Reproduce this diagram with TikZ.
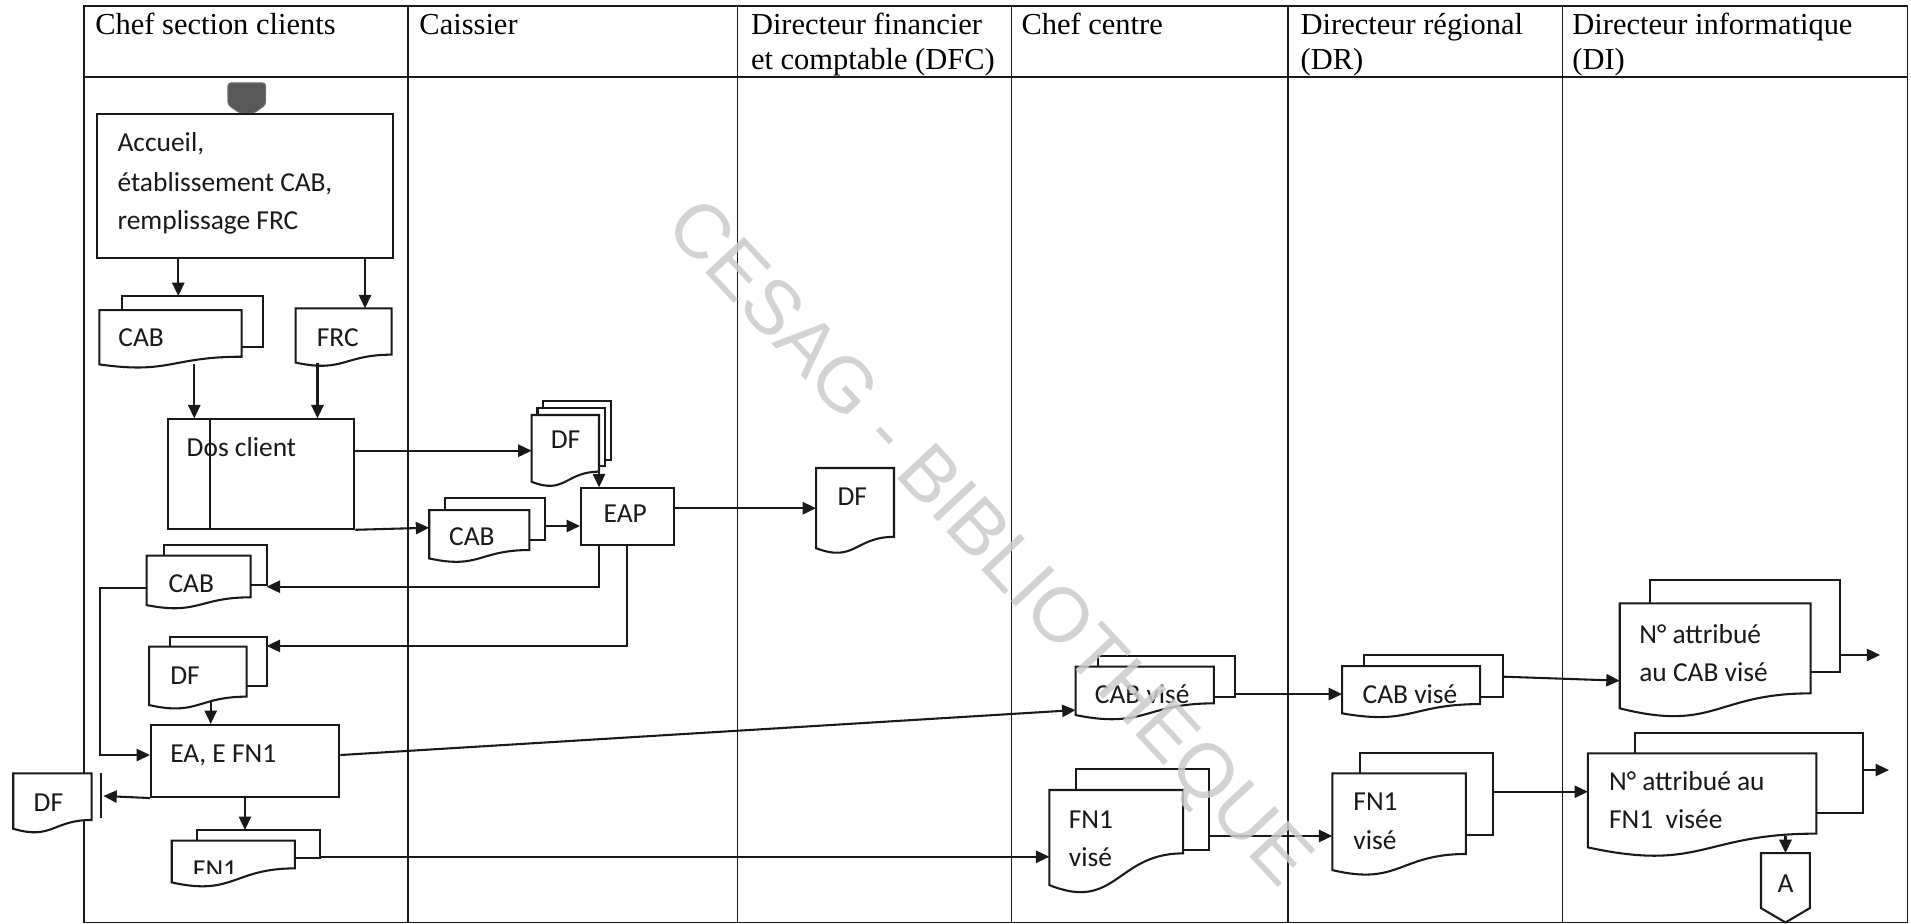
\documentclass[tikz,border=0pt]{standalone}
\usepackage{fontspec}
\setmainfont{Liberation Serif}
\newfontfamily\calfont{Carlito}
\newfontfamily\wmfont{Liberation Sans}
\usetikzlibrary{arrows.meta}
% document sheet with wavy bottom: name, x1, y1, x2, y-right-bottom, y-left-bottom, curvature
\newcommand\docsh[7]{%
  \path[shp] (#2,#3) -- (#4,#3) -- (#4,#5) .. controls ({(#2+#4)/2},#5) and ({(#2+#4)/2},{#5+#7*(#6-#5)}) .. (#2,#6) -- cycle;
  \coordinate (#1) at ({(#2+#4)/2},{(#3+#5)/2});}
% back sheet: name, x1, y1, x2, y2
\newcommand\backsh[5]{%
  \path[shp] (#2,#3) rectangle (#4,#5);
  \coordinate (#1) at ({(#2+#4)/2},{(#3+#5)/2});}
\begin{document}
\begin{tikzpicture}[x=1pt,y=-1pt,
  lane/.style={line width=1.3pt, draw=black!90},
  shp/.style={draw=black!90, line width=1.7pt, fill=white},
  ln/.style={line width=1.7pt, draw=black!90},
  arr/.style={ln, -{Triangle[length=11pt,width=10pt]}},
  hdr/.style={font=\fontsize{25}{30}\selectfont, anchor=base west, inner sep=0},
  txt/.style={font=\calfont\fontsize{22.5}{27}\selectfont, anchor=base west, inner sep=0, text=black!90},
  box/.style={shp, anchor=north west, inner sep=0},
]
\useasboundingbox (0,0) rectangle (1568,758);
\fill[white] (0,0) rectangle (1568,758);

% ---- swimlane table ----
\draw[lane] (69,5) rectangle (1565,757);
\draw[lane] (69,63) -- (1565,63);
\foreach \x in {335,605,830,1057,1282} \draw[lane] (\x,5) -- (\x,757);

\node[hdr] (h1) at (78,28.7) {Chef section clients};
\node[hdr] (h2) at (344,28.7) {Caissier};
\node[hdr] (h3a) at (616,28.7) {Directeur financier};
\node[hdr] (h3b) at (616,57.4) {et comptable (DFC)};
\node[hdr] (h4) at (838,28.7) {Chef centre};
\node[hdr] (h5a) at (1067,28.7) {Directeur régional};
\node[hdr] (h5b) at (1067,57.4) {(DR)};
\node[hdr] (h6a) at (1290,28.7) {Directeur informatique};
\node[hdr] (h6b) at (1290,57.4) {(DI)};

% ---- start symbol ----
\path[fill=black!65, draw=black!55, line width=0.8pt, rounded corners=2.5pt]
  (187,68) -- (218,68) -- (218,86) -- (208,93) -- (197,93) -- (187,86) -- cycle;

% ---- Chef section clients ----
\node[box, minimum width=242.6pt, minimum height=117.6pt] (acc) at (78.8,93) {};
\node[txt] (acc1) at (96.3,124.5) {Accueil,};
\node[txt] (acc2) at (96.3,157.3) {établissement CAB,};
\node[txt] (acc3) at (96.3,188.7) {remplissage FRC};

\backsh{cab1b}{99.8}{242.9}{216}{284.5}
\docsh{cab1}{81.5}{254.4}{198.3}{292.7}{299}{2.31}
\node[txt] (cab1t) at (97,284.5) {CAB};

\docsh{frc}{242.6}{253}{321.4}{291}{297.5}{2.31}
\node[txt] (frct) at (259.8,284.5) {FRC};

\node[box, minimum width=152.9pt, minimum height=89.7pt] (dos) at (136.9,343.3) {};
\draw[ln] ([xshift=35.1pt]dos.north west) -- ([xshift=35.1pt]dos.south west);
\node[txt] (dost) at (153,374.2) {Dos client};

\backsh{cab3b}{134.6}{447.2}{218.8}{480}
\docsh{cab3}{120.3}{455.9}{205.7}{490.1}{496.5}{2.31}
\node[txt] (cab3t) at (138.1,486) {CAB};

\backsh{df3b}{139.5}{522.4}{218.8}{562.9}
\docsh{df3}{122.3}{530.6}{202.4}{571.6}{578.5}{2.31}
\node[txt] (df3t) at (139.5,561.5) {DF};

\node[box, minimum width=154.5pt, minimum height=59.1pt] (ea) at (123.1,594) {};
\node[txt] (eat) at (139.5,626) {EA, E FN1};

\docsh{dfo}{10.9}{634.5}{75.2}{672.8}{680}{2.31}
\node[txt] (dfot) at (27.4,666) {DF};
\draw[ln] (82.9,634.5) -- (82.9,671.4);

\backsh{fn1b}{161.4}{681}{262.6}{703.7}
\docsh{fn1}{140.9}{689.8}{242}{712.5}{724}{2.0}
\begin{scope}
  \clip (140,695) rectangle (242,716.5);
  \node[txt] (fn1t) at (158.1,720.5) {FN1};
\end{scope}

% ---- Caissier ----
\backsh{dfm3}{445.8}{328.9}{501.1}{377.8}
\backsh{dfm2}{441}{334.7}{496.3}{382.5}
\docsh{dfm}{436.2}{340.5}{491.5}{387}{395.3}{2.31}
\node[txt] (dfmt) at (451.8,367.9) {DF};

\backsh{cab2b}{365.4}{408.9}{446.8}{443.1}
\docsh{cab2}{352.2}{418.5}{434.3}{451.3}{458.2}{2.31}
\node[txt] (cab2t) at (368.4,447.7) {CAB};

\node[box, minimum width=76pt, minimum height=46.5pt] (eap) at (475.9,399.9) {};
\node[txt, anchor=base] (eapt) at (513,428.5) {EAP};

% ---- DFC ----
\docsh{dfc}{669.6}{384}{733.5}{440.5}{449.8}{2.31}
\node[txt] (dfct) at (687,414.4) {DF};

% ---- Chef centre ----
\backsh{cabv1b}{900.6}{538}{1013.6}{571.6}
\docsh{cabv1}{882.5}{547}{996}{577.1}{586.7}{2.2}
\node[txt] (cabv1t) at (898.2,577.6) {CAB visé};

\backsh{fnv1b}{882.5}{631.3}{992.1}{697.4}
\docsh{fnv1}{861}{648.2}{970.7}{700.2}{726.2}{1.85}
\node[txt] (fnv1t) at (876.8,679.7) {FN1};
\node[txt] (fnv1u) at (876.8,711.1) {visé};

% ---- Directeur regional ----
\backsh{cabv2b}{1119.5}{537.4}{1233}{571.6}
\docsh{cabv2}{1101.2}{546.5}{1214.4}{577.7}{585.3}{2.31}
\node[txt] (cabv2t) at (1117.9,577.1) {CAB visé};

\backsh{fnv2b}{1116}{617.6}{1224.7}{685.1}
\docsh{fnv2}{1093.2}{634.5}{1202.8}{700.7}{713.9}{2.0}
\node[txt] (fnv2t) at (1110.3,665.2) {FN1};
\node[txt] (fnv2u) at (1110.3,696.9) {visé};

% ---- Directeur informatique ----
\backsh{nocabb}{1353.9}{475.9}{1509.6}{551.1}
\docsh{nocab}{1329}{495}{1485.6}{568.9}{581.2}{2.6}
\node[txt] (nocabt) at (1344.9,527.9) {N° attribué};
\node[txt] (nocabu) at (1344.9,559.3) {au CAB visé};

\backsh{nofnb}{1341.5}{601.7}{1528.4}{667.4}
\docsh{nofn}{1302.9}{618.1}{1490.3}{684}{695.3}{2.8}
\node[txt] (nofnt) at (1320.1,648.2) {N° attribué au};
\node[txt] (nofnu) at (1320.1,679.7) {FN1\ \ visée};

\path[shp] (1444.9,700) -- (1485,700) -- (1485,745.1) -- (1465,756.9) -- (1444.9,745.1) -- cycle;
\coordinate (aconn) at (1465,700);
\node[txt, anchor=base] (at) at (1465,732.4) {A};

% ---- connectors ----
\coordinate (t1) at (146.3,242.9);  \draw[arr] (acc.south -| t1) -- (t1);
\coordinate (t2) at (299.5,253);    \draw[arr] (acc.south -| t2) -- (t2);
\coordinate (s3) at (159.4,299);    \draw[arr] (s3) -- (s3 |- dos.north);
\coordinate (s4) at (260.5,298);    \draw[arr] (s4) -- (s4 |- dos.north);
\coordinate (t5) at (436.2,369.8);  \draw[arr] (dos.east |- t5) -- (t5);
\coordinate (t6) at (352.2,433);    \draw[arr] (dos.south east) -- (t6);
\coordinate (s7) at (491.5,387);    \draw[arr] (s7) -- (s7 |- eap.north);
\coordinate (s8) at (446.8,431.6);  \draw[arr] (s8) -- (s8 -| eap.west);
\coordinate (t9) at (669.6,417);    \draw[arr] (eap.east |- t9) -- (t9);
\coordinate (t10) at (218.8,481.4); \draw[arr] (eap.south -| s7) |- (t10);
\coordinate (x11) at (514.7,446.4); \coordinate (t11) at (218.8,530);
\draw[arr] (eap.south -| x11) |- (t11);
\coordinate (s12) at (120.3,482.7); \coordinate (k12) at (82,619.5);
\draw[arr] (s12) -| (k12) -- (k12 -| ea.west);
\coordinate (s13) at (172.9,576);   \draw[arr] (s13) -- (s13 |- ea.north);
\coordinate (t14) at (84.8,653.1);  \draw[arr] (ea.south west) -- (t14);
\coordinate (t15) at (201,681);     \draw[arr] (ea.south -| t15) -- (t15);
\coordinate (s16) at (277.6,619.5); \coordinate (t16) at (882.5,582.6);
\draw[arr] (ea.east |- s16) -- (t16);
\coordinate (s17) at (262.6,703);   \coordinate (t17) at (861,703);
\draw[arr] (s17) -- (t17);
\coordinate (s18) at (1013.6,569.5); \coordinate (t18) at (1101.2,569.5);
\draw[arr] (s18) -- (t18);
\coordinate (s19) at (1233,555.2);  \coordinate (t19) at (1329,558.5);
\draw[arr] (s19) -- (t19);
\coordinate (s20) at (1509.6,537.4); \coordinate (t20) at (1542.7,537.4);
\draw[arr] (s20) -- (t20);
\coordinate (s21) at (992.1,685.9); \coordinate (t21) at (1093.2,685.9);
\draw[arr] (s21) -- (t21);
\coordinate (s22) at (1224.7,649.6); \coordinate (t22) at (1302.9,649.6);
\draw[arr] (s22) -- (t22);
\coordinate (s23) at (1528.4,631.8); \coordinate (t23) at (1549.9,631.8);
\draw[arr] (s23) -- (t23);
\coordinate (s24) at (1465,686);    \draw[arr] (s24) -- (aconn);

% ---- watermark ----
\node[rotate=-47, anchor=base, inner sep=0, font=\wmfont\fontsize{63}{63}\selectfont,
      text=black!20, opacity=0.85] (wm) at (797.4,458.5) {CESAG - BIBLIOTHEQUE};
\end{tikzpicture}
\end{document}
